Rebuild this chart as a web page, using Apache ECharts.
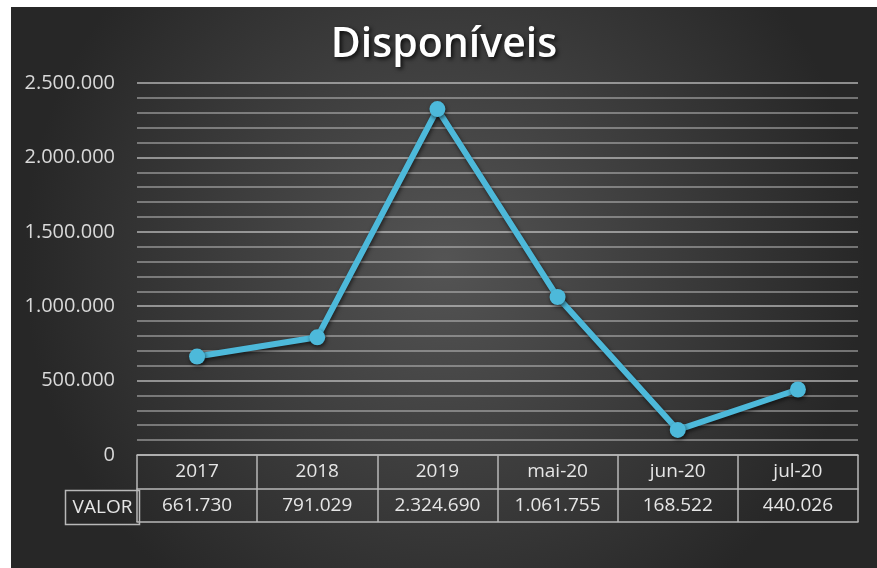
<!DOCTYPE html>
<html>
<head>
<meta charset="utf-8">
<script src="https://cdn.jsdelivr.net/npm/echarts@6/dist/echarts.min.js"></script>
<style>
html,body{margin:0;padding:0;background:#fff;width:877px;height:568px;overflow:hidden;}
#c{position:absolute;left:11px;top:7px;width:866px;height:561px;}
</style>
</head>
<body>
<div id="c"></div>
<script>
const categories = ['2017', '2018', '2019', 'mai-20', 'jun-20', 'jul-20'];
const values = [661730, 791029, 2324690, 1061755, 168522, 440026];
const rowLabel = 'VALOR';
const chartTitle = 'Disponíveis';

function fmt(v) {
  return String(Math.round(v)).replace(/\B(?=(\d{3})+(?!\d))/g, '.');
}

const chart = echarts.init(document.getElementById('c'));
const gridColor = 'rgba(210,210,210,0.6)';
const tableColor = '#b8b8b8';
const font = '"Open Sans", "Noto Sans", sans-serif';

chart.setOption({
  backgroundColor: {
    type: 'radial', x: 0.5, y: 0.45, r: 0.75,
    colorStops: [{offset: 0, color: '#545454'}, {offset: 1, color: '#272727'}]
  },
  title: {
    text: chartTitle, left: 'center', top: 13,
    textStyle: {color: '#ffffff', fontSize: 41, fontWeight: 600, fontFamily: font,
      textShadowColor: 'rgba(0,0,0,0.8)', textShadowBlur: 4, textShadowOffsetX: 2, textShadowOffsetY: 2}
  },
  grid: {left: 126, right: 19, top: 76, bottom: 113},
  xAxis: [
    {
      type: 'category', data: categories, boundaryGap: true,
      axisLine: {show: true, lineStyle: {color: tableColor, width: 1.5}},
      axisTick: {show: true, length: 67, interval: 0, lineStyle: {color: tableColor, width: 1.5}},
      axisLabel: {
        interval: 0, margin: 0,
        formatter: (v, i) => '{a|' + v + '}\n{b|' + fmt(values[i]) + '}',
        rich: {
          a: {color: '#e6e6e6', fontSize: 19, fontFamily: font, lineHeight: 34, align: 'center'},
          b: {color: '#e6e6e6', fontSize: 19, fontFamily: font, lineHeight: 34, align: 'center'}
        }
      },
      splitLine: {show: false}
    },
    {
      type: 'category', data: categories, position: 'bottom', offset: 34,
      axisLine: {show: true, onZero: false, lineStyle: {color: tableColor, width: 1.5}},
      axisTick: {show: false}, axisLabel: {show: false}, splitLine: {show: false}
    },
    {
      type: 'category', data: categories, position: 'bottom', offset: 67,
      axisLine: {show: true, onZero: false, lineStyle: {color: tableColor, width: 1.5}},
      axisTick: {show: false}, axisLabel: {show: false}, splitLine: {show: false}
    }
  ],
  yAxis: {
    type: 'value', min: 0, max: 2500000, interval: 500000,
    axisLine: {show: false}, axisTick: {show: false},
    axisLabel: {color: '#d9d9d9', fontSize: 20, fontFamily: font, margin: 22, formatter: v => fmt(v)},
    splitLine: {show: true, lineStyle: {color: gridColor, width: 1.8}},
    minorTick: {show: false, splitNumber: 5},
    minorSplitLine: {show: true, lineStyle: {color: gridColor, width: 1.6}}
  },
  series: [{
    type: 'line', data: values, xAxisIndex: 0,
    symbol: 'circle', symbolSize: 16,
    lineStyle: {color: '#4db9da', width: 6, shadowColor: 'rgba(0,0,0,0.6)', shadowBlur: 4, shadowOffsetX: 1, shadowOffsetY: 2},
    itemStyle: {color: '#4db9da', shadowColor: 'rgba(0,0,0,0.6)', shadowBlur: 4, shadowOffsetX: 1, shadowOffsetY: 2},
    z: 5
  }],
  graphic: [{
    type: 'group', left: 52, top: 481,
    children: [
      {type: 'rect', shape: {x: 0, y: 0, width: 74, height: 34}, style: {fill: 'none', stroke: tableColor, lineWidth: 1.5}},
      {type: 'text', x: 37, y: 17, style: {text: rowLabel, fill: '#e6e6e6', font: '19px "Open Sans", sans-serif', align: 'center', verticalAlign: 'middle'}}
    ]
  }]
});
</script>
</body>
</html>
